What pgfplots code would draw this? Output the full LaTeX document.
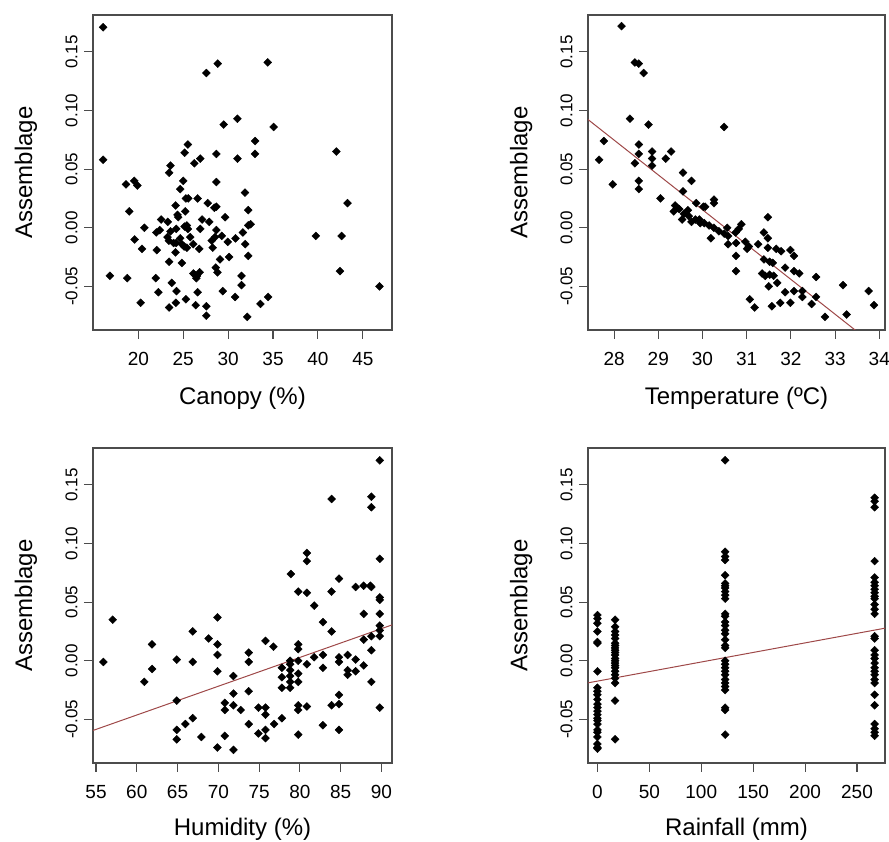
\documentclass[border=0pt]{standalone}
\usepackage{fontspec}
\setmainfont{Liberation Sans}
\usepackage{pgfplots}
\pgfplotsset{compat=1.18}
\definecolor{fitline}{RGB}{158,72,72}
\pgfplotsset{
  rpanel/.style={
    scale only axis, anchor=south west,
    height=315pt,
    axis line style={black!70, line width=1.1pt},
    tick style={black!70, line width=1.1pt},
    tick align=outside, major tick length=9pt,
    xtick pos=lower, ytick pos=lower,
    ymin=-0.0872, ymax=0.1815,
    ytick={-0.05,0,0.05,0.1,0.15},
    yticklabels={-0.05,0.00,0.05,0.10,0.15},
    yticklabel style={rotate=90, anchor=south, font=\fontsize{17}{20}\selectfont},
    xticklabel style={font=\fontsize{19}{22}\selectfont},
    xticklabel shift=10pt, yticklabel shift=3pt,
    /pgf/number format/assume math mode=true,
    label style={font=\fontsize{24}{28}\selectfont},
    ylabel={Assemblage},
    ylabel style={at={(axis description cs:-0.204,0.5)}, anchor=base},
    xlabel style={anchor=base},
  },
  pts/.style={only marks, mark=square*, mark size=2.8pt,
    mark options={rotate=45, fill=black, draw=black}},
  fit/.style={no marks, fitline, line width=1pt},
}
\begin{document}
\begin{tikzpicture}
\useasboundingbox (0,0) rectangle (889pt,842pt);

% Canopy
\begin{axis}[rpanel, at={(93pt,512pt)}, width=299pt,
  xmin=14.95, xmax=48.25, xtick={20,25,30,35,40,45},
  xlabel={Canopy (\%)},
  xlabel style={at={(axis description cs:0.5,-0.235)}}]
\addplot[pts] table {
16.08 0.171
27.57 0.132
28.84 0.140
29.50 0.088
31.04 0.093
16.08 0.058
25.52 0.071
25.15 0.064
26.23 0.055
26.90 0.059
28.69 0.063
31.04 0.059
23.58 0.053
23.43 0.047
18.62 0.037
19.55 0.040
19.89 0.036
25.00 0.040
28.69 0.039
24.66 0.033
31.87 0.030
25.30 0.025
25.56 0.025
26.60 0.025
24.14 0.019
27.72 0.021
28.47 0.017
28.69 0.018
32.24 0.015
18.99 0.014
25.22 0.014
24.37 0.011
24.44 0.009
29.66 0.009
22.54 0.007
23.28 0.005
27.10 0.007
27.90 0.005
32.24 0.002
32.50 0.003
20.67 0.000
22.39 -0.002
22.00 -0.004
23.58 -0.003
24.22 -0.001
25.15 0.001
25.41 0.002
25.52 -0.001
26.90 -0.001
28.69 -0.002
31.64 -0.004
19.59 -0.010
23.25 -0.008
23.40 -0.011
24.66 -0.009
25.78 -0.008
28.54 -0.008
29.29 -0.007
30.82 -0.009
28.17 -0.011
23.92 -0.013
24.22 -0.013
24.85 -0.014
25.11 -0.016
25.41 -0.017
26.12 -0.014
26.79 -0.018
28.28 -0.017
29.96 -0.012
31.90 -0.014
32.24 -0.024
20.41 -0.018
22.05 -0.019
24.14 -0.021
23.43 -0.029
24.85 -0.030
29.10 -0.027
30.11 -0.025
28.62 -0.034
28.81 -0.038
16.83 -0.041
18.77 -0.043
21.94 -0.043
26.12 -0.039
26.27 -0.040
26.53 -0.041
26.46 -0.043
26.83 -0.038
31.49 -0.041
31.49 -0.049
23.73 -0.047
22.24 -0.055
24.25 -0.054
26.60 -0.055
29.40 -0.054
30.78 -0.059
20.26 -0.064
23.43 -0.068
24.18 -0.064
25.30 -0.061
26.38 -0.066
27.57 -0.067
27.57 -0.075
32.13 -0.076
34.41 0.141
35.07 0.086
33.00 0.074
33.00 0.063
42.05 0.065
43.30 0.021
39.76 -0.007
42.64 -0.007
42.45 -0.037
46.85 -0.050
34.45 -0.059
33.60 -0.065
};
\end{axis}

% Temperature
\begin{axis}[rpanel, at={(588pt,512pt)}, width=297pt,
  xmin=27.41, xmax=34.13, xtick={28,29,30,31,32,33,34},
  xlabel={Temperature (ºC)},
  xlabel style={at={(axis description cs:0.5,-0.235)}}]
\addplot[fit] coordinates {(27.0,0.1045) (34.2,-0.1094)};
\addplot[pts] table {
28.17 0.172
28.47 0.141
28.56 0.140
28.67 0.132
28.36 0.093
28.78 0.088
27.77 0.074
27.66 0.058
28.56 0.071
28.56 0.063
28.47 0.055
28.86 0.065
28.86 0.059
28.86 0.053
29.29 0.065
29.17 0.059
27.97 0.037
28.56 0.040
28.56 0.033
29.56 0.047
29.75 0.040
29.56 0.031
29.05 0.025
29.86 0.021
30.02 0.018
29.38 0.019
29.35 0.014
29.47 0.016
29.58 0.012
29.69 0.010
29.54 0.007
29.75 0.005
29.84 0.007
29.95 0.004
29.67 0.015
29.43 0.017
30.49 0.086
30.06 0.018
30.26 0.024
30.26 0.021
29.93 0.007
30.04 0.004
30.15 0.002
30.26 0.000
30.37 -0.003
30.49 -0.005
30.58 -0.007
30.19 -0.009
30.56 0.000
30.58 -0.014
30.75 -0.004
30.88 0.003
30.82 -0.001
30.76 -0.013
30.76 -0.024
30.76 -0.037
30.97 -0.012
31.05 -0.016
31.01 -0.018
31.26 -0.014
31.48 0.009
31.39 -0.004
31.48 -0.009
31.48 -0.017
31.67 -0.018
31.78 -0.020
31.99 -0.019
32.07 -0.024
31.39 -0.027
31.52 -0.029
31.59 -0.030
31.87 -0.034
31.35 -0.039
31.42 -0.041
31.52 -0.040
31.61 -0.041
31.69 -0.047
31.50 -0.050
32.07 -0.037
32.19 -0.039
32.57 -0.042
31.87 -0.055
32.07 -0.054
32.26 -0.054
32.26 -0.059
32.47 -0.065
32.57 -0.059
31.07 -0.061
31.18 -0.068
31.57 -0.067
31.76 -0.064
31.99 -0.064
32.77 -0.076
33.18 -0.049
33.26 -0.074
33.76 -0.054
33.88 -0.066
};
\end{axis}

% Humidity
\begin{axis}[rpanel, at={(93pt,79pt)}, width=299pt,
  xmin=54.63, xmax=91.3, xtick={55,60,65,70,75,80,85,90},
  xlabel={Humidity (\%)},
  xlabel style={at={(axis description cs:0.5,-0.2286)}}]
\addplot[fit] coordinates {(54.0,-0.0610) (92.0,0.0323)};
\addplot[pts] table {
55.90 -0.001
57.05 0.035
61.87 0.014
61.87 -0.007
60.93 -0.018
64.90 0.001
64.90 -0.034
66.86 0.025
66.86 -0.001
68.82 0.019
69.89 0.037
69.89 0.014
69.89 0.005
69.89 -0.009
71.85 -0.013
71.85 -0.028
70.79 -0.036
70.79 -0.042
71.85 -0.038
72.75 -0.042
73.73 0.007
73.73 -0.001
73.73 -0.026
73.73 -0.054
66.86 -0.049
65.96 -0.054
64.90 -0.059
64.90 -0.067
67.92 -0.065
69.89 -0.074
70.79 -0.064
71.85 -0.076
89.80 0.171
83.89 0.138
88.77 0.140
88.77 0.131
80.86 0.092
80.86 0.085
89.80 0.087
78.89 0.074
79.80 0.059
80.86 0.058
84.80 0.070
83.89 0.059
81.76 0.047
86.84 0.063
87.83 0.064
88.65 0.064
88.77 0.063
89.80 0.054
89.80 0.052
89.80 0.040
87.83 0.040
82.83 0.033
83.89 0.025
89.80 0.030
89.80 0.026
89.80 0.021
88.77 0.021
87.83 0.018
88.77 0.009
75.78 0.017
76.76 0.012
79.80 0.014
79.80 0.010
79.80 0.000
78.81 0.000
78.81 -0.003
77.79 -0.006
77.79 -0.014
78.81 -0.008
78.81 -0.013
78.81 -0.018
78.81 -0.023
77.79 -0.023
79.80 -0.011
79.80 -0.018
80.86 -0.003
81.76 0.003
82.83 0.005
82.83 -0.006
84.80 0.003
84.80 -0.001
85.86 0.005
86.84 0.001
85.86 -0.008
85.86 -0.012
86.84 -0.009
87.83 -0.004
88.77 -0.018
84.80 -0.029
83.89 -0.038
84.80 -0.037
79.80 -0.038
79.80 -0.042
80.86 -0.039
89.80 -0.040
82.83 -0.055
84.80 -0.059
79.80 -0.063
74.92 -0.040
75.78 -0.040
75.78 -0.046
74.92 -0.062
75.78 -0.059
75.78 -0.066
76.84 -0.054
77.79 -0.049
};
\end{axis}

% Rainfall
\begin{axis}[rpanel, at={(588pt,79pt)}, width=297pt,
  xmin=-9.1, xmax=277, xtick={0,50,100,150,200,250},
  xlabel={Rainfall (mm)},
  xlabel style={at={(axis description cs:0.5,-0.2286)}}]
\addplot[fit] coordinates {(-15,-0.0198) (285,0.0291)};
\addplot[pts] table {
0 0.039
0 0.036
0 0.032
0 0.025
0 0.016
0 0.015
0 -0.009
0 -0.023
0 -0.026
0 -0.029
0 -0.033
0 -0.037
0 -0.040
0 -0.043
0 -0.046
0 -0.049
0 -0.051
0 -0.054
0 -0.059
0 -0.061
0 -0.065
0 -0.071
0 -0.074
0 -0.075
17 0.035
17 0.029
17 0.025
17 0.022
17 0.019
17 0.015
17 0.013
17 0.011
17 0.009
17 0.007
17 0.005
17 0.002
17 0.000
17 -0.002
17 -0.004
17 -0.006
17 -0.009
17 -0.012
17 -0.015
17 -0.019
17 -0.034
17 -0.067
123 0.171
123 0.093
123 0.089
123 0.086
123 0.073
123 0.066
123 0.064
123 0.062
123 0.059
123 0.056
123 0.053
123 0.040
123 0.038
123 0.033
123 0.030
123 0.026
123 0.023
123 0.018
123 0.013
123 0.011
123 0.000
123 -0.003
123 -0.006
123 -0.009
123 -0.012
123 -0.016
123 -0.019
123 -0.022
123 -0.025
123 -0.040
123 -0.042
123 -0.063
267 0.139
267 0.136
267 0.131
267 0.085
267 0.071
267 0.067
267 0.064
267 0.061
267 0.058
267 0.055
267 0.053
267 0.048
267 0.044
267 0.040
267 0.021
267 0.019
267 0.009
267 0.005
267 0.002
267 -0.002
267 -0.006
267 -0.009
267 -0.012
267 -0.016
267 -0.019
267 -0.029
267 -0.038
267 -0.054
267 -0.058
267 -0.061
267 -0.064
};
\end{axis}
\end{tikzpicture}
\end{document}
